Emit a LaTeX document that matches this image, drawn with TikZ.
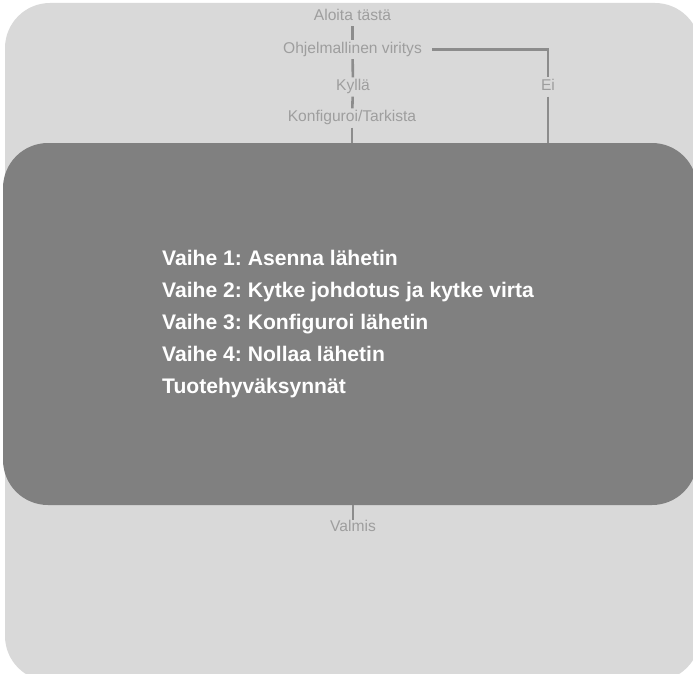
\documentclass[tikz,border=0pt]{standalone}
\usepackage{fontspec}
\setmainfont{Liberation Sans}
\frenchspacing
\definecolor{lightbg}{RGB}{217,217,217}
\definecolor{boxgray}{RGB}{128,128,128}
\definecolor{textgray}{RGB}{158,158,158}
\definecolor{linegray}{RGB}{140,140,140}
\tikzset{
  small/.style={font=\fontsize{15.6}{18}\selectfont, text=textgray, inner xsep=0pt, inner ysep=2pt,
                text height=11.5pt, text depth=3.5pt, anchor=base},
  conn/.style={draw=linegray, line width=2.6pt},
  stepline/.style={font=\fontsize{21.1}{25}\selectfont\bfseries, text=white, inner sep=0pt, anchor=base west},
}
\begin{document}
\begin{tikzpicture}[x=1pt,y=-1pt]
\useasboundingbox (0,0) rectangle (693,674);
\clip (0,0) rectangle (693,674);
\fill[lightbg, rounded corners=45pt] (5,3) rectangle (700,681);
\node[fill=boxgray, rounded corners=45pt, minimum width=694pt, minimum height=362pt, inner sep=0pt] (box) at (350,324) {};
% small labels
\node[small] (start) at (352.5,20.5) {Aloita tästä};
\node[small, inner xsep=10pt] (ohj) at (352.5,53.5) {Ohjelmallinen viritys};
\node[small] (kylla) at (353,91) {Kyllä};
\node[small] (konf) at (352,122) {Konfiguroi/Tarkista};
\node[small] (ei) at (548,91) {Ei};
\node[small] (valmis) at (353,531) {Valmis};
% connectors
\draw[conn] (start) -- (ohj);
\draw[conn] (ohj) -- (kylla);
\draw[conn] (kylla) -- (konf);
\draw[conn] (konf.south) -- (konf.south |- box.north);
\draw[conn] (ohj.east) -| (ei.north);
\draw[conn] (ei.south) -- (ei.south |- box.north);
\draw[conn] (valmis.north |- box.south) -- ([yshift=-3pt]valmis.north);
% step list
\node[stepline] (s1) at (162,265) {Vaihe 1: Asenna lähetin};
\node[stepline] (s2) at (162,297) {Vaihe 2: Kytke johdotus ja kytke virta};
\node[stepline] (s3) at (162,329) {Vaihe 3: Konfiguroi lähetin};
\node[stepline] (s4) at (162,361) {Vaihe 4: Nollaa lähetin};
\node[stepline] (s5) at (162,393) {Tuotehyväksynnät};
\end{tikzpicture}
\end{document}
